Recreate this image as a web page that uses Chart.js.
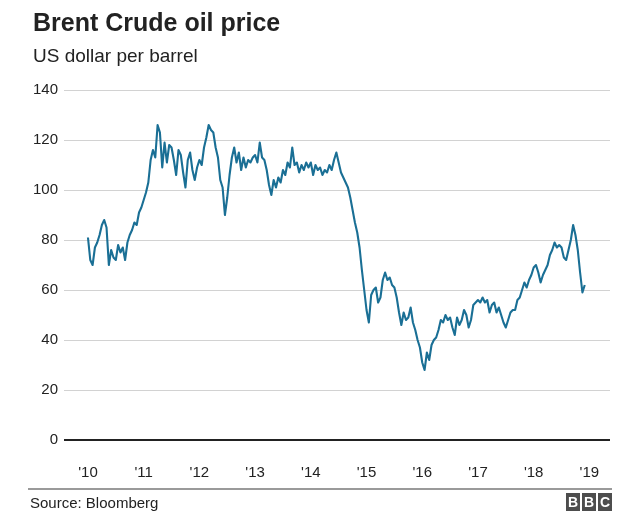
<!DOCTYPE html>
<html>
<head>
<meta charset="utf-8">
<title>Brent Crude oil price</title>
<script src="https://cdn.jsdelivr.net/npm/chart.js@4.4.1/dist/chart.umd.min.js"></script>
<style>
    body { margin: 0; background: #fff; }
    #wrap { position: relative; width: 640px; height: 520px; overflow: hidden; font-family: "Liberation Sans", Arial, sans-serif; color: #222; }
    #oilChart { position: absolute; left: 0; top: 0; }
    .title { position: absolute; left: 33px; top: 8px; font-size: 25px; font-weight: bold; color: #222; }
    .subtitle { position: absolute; left: 33px; top: 45px; font-size: 19px; color: #222; }
    .footline { position: absolute; left: 28px; top: 488px; width: 584px; height: 2px; background: #9a9a9a; }
    .source { position: absolute; left: 30px; top: 494px; font-size: 15px; color: #222; }
    .bbc { position: absolute; left: 566px; top: 493px; display: flex; gap: 2px; }
    .bbc span { display: block; width: 14px; height: 18px; line-height: 18px; background: #4d4d4d; color: #fff; font-weight: bold; font-size: 14px; text-align: center; }
</style>
</head>
<body>
<div id="wrap">
    <canvas id="oilChart" width="640" height="520"></canvas>
    <div class="title">Brent Crude oil price</div>
    <div class="subtitle">US dollar per barrel</div>
    <div class="footline"></div>
    <div class="source">Source: Bloomberg</div>
    <div class="bbc"><span>B</span><span>B</span><span>C</span></div>
</div>
<script>
// Brent price, read off the picture roughly twice a month (1st and 15th)
var prices2010 = [81, 72, 70, 77, 79, 82, 86, 88, 85, 70, 76, 73, 72, 78, 75, 77, 72, 79, 82, 84, 87, 86, 91, 93];
var prices2011 = [96, 99, 103, 112, 116, 113, 126, 123, 109, 119, 111, 118, 117, 112, 106, 116, 114, 107, 101, 112, 115, 108, 104, 109];
var prices2012 = [112, 110, 117, 121, 126, 124, 123, 117, 113, 104, 101, 90, 97, 106, 113, 117, 111, 115, 108, 113, 109, 112, 111, 113];
var prices2013 = [114, 111, 119, 113, 112, 108, 102, 98, 104, 101, 105, 103, 108, 106, 111, 109, 117, 110, 111, 107, 110, 108, 111, 109];
var prices2014 = [111, 106, 110, 108, 109, 106, 108, 107, 110, 108, 112, 115, 111, 107, 105, 103, 101, 97, 92, 87, 83, 77, 68, 60];
var prices2015 = [52, 47, 58, 60, 61, 55, 57, 64, 67, 64, 65, 62, 61, 57, 51, 46, 51, 48, 49, 53, 47, 44, 40, 37];
var prices2016 = [31, 28, 35, 32, 38, 40, 41, 44, 48, 47, 50, 48, 49, 45, 42, 49, 46, 48, 52, 50, 45, 48, 54, 55];
var prices2017 = [56, 55, 57, 55, 56, 51, 54, 55, 51, 53, 50, 47, 45, 48, 51, 52, 52, 56, 57, 60, 63, 61, 64, 66];
var prices2018 = [69, 70, 67, 63, 66, 68, 70, 74, 76, 79, 77, 78, 77, 73, 72, 76, 80, 86, 82, 76, 67, 59, 62];

var priceYears = [2010, 2011, 2012, 2013, 2014, 2015, 2016, 2017, 2018];
var yearTicks = [2010, 2011, 2012, 2013, 2014, 2015, 2016, 2017, 2018, 2019];
var yTicks = [0, 20, 40, 60, 80, 100, 120, 140];

var lineColour = '#1a6f95';
var fontFamily = '"Liberation Sans", Arial, sans-serif';

function buildPoints() {
    var all = [prices2010, prices2011, prices2012, prices2013, prices2014, prices2015, prices2016, prices2017, prices2018];
    var pts = [];
    all.forEach(function (arr, k) {
        arr.forEach(function (v, i) {
            pts.push({ x: priceYears[k] + i / 24, y: v });
        });
    });
    return pts;
}

const ctx = document.getElementById('oilChart').getContext('2d');
new Chart(ctx, {
    type: 'line',
    data: {
        datasets: [{
            data: buildPoints(),
            borderColor: lineColour,
            borderWidth: 2.1,
            borderJoinStyle: 'round',
            pointRadius: 0,
            tension: 0,
            fill: false
        }]
    },
    options: {
        responsive: false,
        animation: false,
        layout: { padding: { left: 0, right: 30, top: 90, bottom: 35 } },
        plugins: {
            legend: { display: false },
            tooltip: { enabled: false }
        },
        scales: {
            x: {
                type: 'linear',
                min: 2009.57,
                max: 2019.37,
                grid: { display: false },
                border: { display: false },
                afterBuildTicks: function (s) { s.ticks = yearTicks.map(function (v) { return { value: v }; }); },
                afterFit: function (s) { s.height = 45; },
                ticks: {
                    autoSkip: false,
                    maxRotation: 0,
                    padding: 16,
                    color: '#222',
                    font: { family: fontFamily, size: 15 },
                    callback: function (v) { return "'" + String(v).slice(2); }
                }
            },
            y: {
                min: 0,
                max: 140,
                afterBuildTicks: function (s) { s.ticks = yTicks.map(function (v) { return { value: v }; }); },
                afterFit: function (s) { s.width = 64; },
                border: { display: false },
                grid: {
                    drawTicks: false,
                    color: function (c) { return c.tick && c.tick.value === 0 ? '#222' : '#d2d2d2'; },
                    lineWidth: function (c) { return c.tick && c.tick.value === 0 ? 2 : 1; }
                },
                ticks: {
                    padding: 6,
                    color: '#222',
                    font: { family: fontFamily, size: 15 }
                }
            }
        }
    }
});
</script>
</body>
</html>
